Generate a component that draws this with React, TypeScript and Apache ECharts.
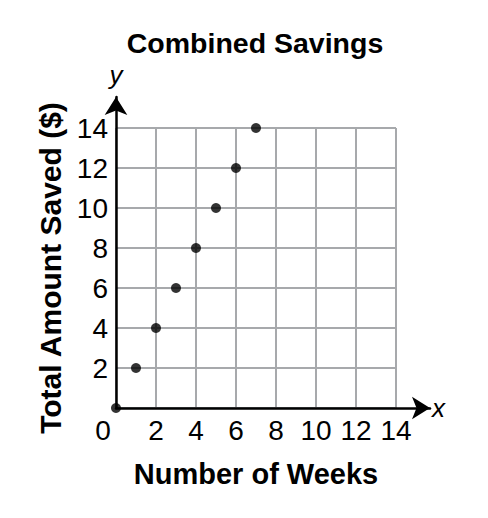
import React, { useEffect, useRef } from "react";
import * as echarts from "echarts";

const weeks = [0, 1, 2, 3, 4, 5, 6, 7];
const saved = [0, 2, 4, 6, 8, 10, 12, 14];
const xTickLabels = ["0", "2", "4", "6", "8", "10", "12", "14"];
const yTickLabels = ["", "2", "4", "6", "8", "10", "12", "14"];

const FONT = "'Liberation Sans', Arial, Helvetica, sans-serif";

export default function App() {
  const ref = useRef<HTMLDivElement>(null);
  useEffect(() => {
    if (!ref.current) return;
    const chart = echarts.init(ref.current, null, { renderer: "svg" });
    const gridLine = { color: "#a7a9ac", width: 2 };
    chart.setOption({
      animation: false,
      backgroundColor: "#ffffff",
      title: {
        text: "Combined Savings",
        left: 255,
        top: 28,
        padding: 0,
        textAlign: "center",
        textStyle: { fontFamily: FONT, fontSize: 28.5, fontWeight: "bold", color: "#000" },
      },
      grid: [
        { left: 116, right: 92, top: 128, bottom: 110 },
        { left: 116, right: 58, top: 97, bottom: 110 },
      ],
      xAxis: [
        {
          type: "value",
          gridIndex: 0,
          min: 0,
          max: 14,
          interval: 2,
          axisLine: { show: false },
          axisTick: { show: false },
          splitLine: { show: true, lineStyle: gridLine },
          axisLabel: {
            show: true,
            margin: 8,
            fontFamily: FONT,
            fontSize: 28,
            color: "#000",
            formatter: (v: number) => {
              const t = xTickLabels[Math.round(v / 2)] ?? "";
              return v === 0 ? "{z|" + t + "}" : t;
            },
            rich: { z: { padding: [0, 26, 0, 0], fontFamily: FONT, fontSize: 28, color: "#000" } },
          },
          name: "Number of Weeks",
          nameLocation: "middle",
          nameGap: 51,
          nameTextStyle: { fontFamily: FONT, fontSize: 29, fontWeight: "bold", color: "#000" },
        },
        {
          type: "value",
          gridIndex: 1,
          min: 0,
          max: 15.3,
          axisLine: {
            show: true,
            onZero: false,
            symbol: ["none", "arrow"],
            symbolSize: [17, 18],
            lineStyle: { color: "#000", width: 2.5 },
          },
          axisTick: { show: false },
          axisLabel: { show: false },
          splitLine: { show: false },
          name: "x",
          nameLocation: "end",
          nameGap: 2,
          nameTextStyle: { fontFamily: FONT, fontSize: 26, fontStyle: "italic", color: "#000", verticalAlign: "middle" },
        },
      ],
      yAxis: [
        {
          type: "value",
          gridIndex: 0,
          min: 0,
          max: 14,
          interval: 2,
          axisLine: { show: false },
          axisTick: { show: false },
          splitLine: { show: true, lineStyle: gridLine },
          axisLabel: {
            show: true,
            margin: 8,
            fontFamily: FONT,
            fontSize: 28,
            color: "#000",
            formatter: (v: number) => yTickLabels[Math.round(v / 2)] ?? "",
          },
          name: "Total Amount Saved ($)",
          nameLocation: "middle",
          nameGap: 48,
          nameTextStyle: { fontFamily: FONT, fontSize: 30, fontWeight: "bold", color: "#000" },
        },
        {
          type: "value",
          gridIndex: 1,
          min: 0,
          max: 15.1,
          axisLine: {
            show: true,
            onZero: false,
            symbol: ["none", "arrow"],
            symbolSize: [17, 18],
            lineStyle: { color: "#000", width: 2.5 },
          },
          axisTick: { show: false },
          axisLabel: { show: false },
          splitLine: { show: false },
          name: "y",
          nameLocation: "end",
          nameGap: 9,
          nameTextStyle: { fontFamily: FONT, fontSize: 26, fontStyle: "italic", color: "#000" },
        },
      ],
      series: [
        {
          type: "scatter",
          xAxisIndex: 0,
          yAxisIndex: 0,
          z: 10,
          symbol: "circle",
          symbolSize: 10,
          itemStyle: { color: "#000" },
          data: weeks.map((w, i) => [w, saved[i]]),
        },
      ],
    });
    return () => chart.dispose();
  }, []);
  return (
    <div
      ref={ref}
      style={{ position: "fixed", left: 0, top: 0, width: 488, height: 518, background: "#fff" }}
    />
  );
}
